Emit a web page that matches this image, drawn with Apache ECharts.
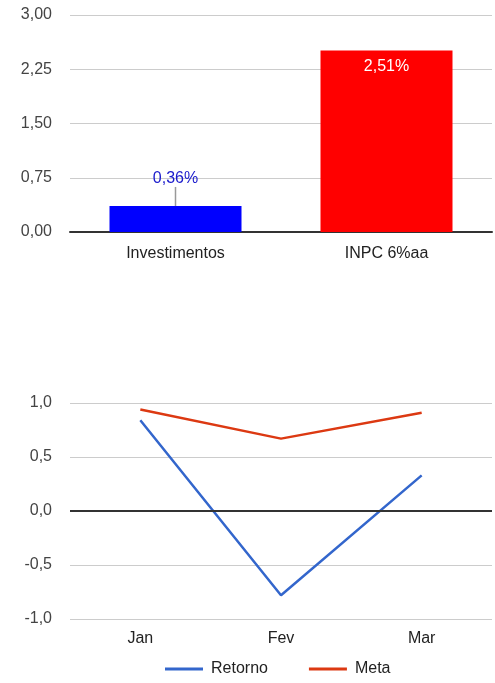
<!DOCTYPE html>
<html>
<head>
<meta charset="utf-8">
<script src="https://cdn.jsdelivr.net/npm/echarts@6/dist/echarts.min.js"></script>
<style>
html,body{margin:0;padding:0;background:#fff;}
#c{width:495px;height:683px;}
</style>
</head>
<body>
<div id="c"></div>
<script>
// Bar chart data
const barCategories = ['Investimentos', 'INPC 6%aa'];
const barValues = [0.36, 2.51];
const barTicks = [0, 0.75, 1.5, 2.25, 3];

// Line chart data
const months = ['Jan', 'Fev', 'Mar'];
const retorno = [0.84, -0.78, 0.33];
const meta = [0.94, 0.67, 0.91];

const FONT = '"Liberation Sans", Arial, sans-serif';
const fmt = (v, d) => v.toFixed(d).replace('.', ',');

const chart = echarts.init(document.getElementById('c'), null, {renderer: 'canvas'});
chart.setOption({
  animation: false,
  textStyle: {fontFamily: FONT},
  grid: [
    {left: 70, right: 3, top: 15, height: 217},
    {left: 70, right: 3, top: 403, height: 216}
  ],
  legend: {
    data: ['Retorno', 'Meta'],
    left: 165,
    top: 661,
    padding: 0,
    icon: 'rect',
    itemWidth: 38,
    itemHeight: 3,
    itemGap: 41,
    textStyle: {fontSize: 16, color: '#222', fontFamily: FONT, padding: [0, 0, 0, 3]}
  },
  xAxis: [
    {
      type: 'category', gridIndex: 0, data: barCategories,
      axisLine: {lineStyle: {color: '#333', width: 2}},
      axisTick: {show: false},
      axisLabel: {fontSize: 16, color: '#222', margin: 14, fontFamily: FONT}
    },
    {
      type: 'category', gridIndex: 1, data: months,
      axisLine: {show: false, onZero: false},
      axisTick: {show: false},
      axisLabel: {fontSize: 16, color: '#222', margin: 12, fontFamily: FONT}
    }
  ],
  yAxis: [
    {
      type: 'value', gridIndex: 0, min: 0, max: 3, interval: 0.75,
      axisLine: {show: false}, axisTick: {show: false},
      axisLabel: {fontSize: 16, color: '#444', margin: 18, fontFamily: FONT, formatter: v => fmt(v, 2)},
      splitLine: {lineStyle: {color: '#cccccc', width: 1}}
    },
    {
      type: 'value', gridIndex: 1, min: -1, max: 1, interval: 0.5,
      axisLine: {show: false}, axisTick: {show: false},
      axisLabel: {fontSize: 16, color: '#444', margin: 18, fontFamily: FONT, formatter: v => fmt(v, 1)},
      splitLine: {lineStyle: {color: '#cccccc', width: 1}}
    }
  ],
  series: [
    {
      type: 'bar', xAxisIndex: 0, yAxisIndex: 0,
      barWidth: 132,
      data: [
        {value: barValues[0], itemStyle: {color: '#0000ff'},
         label: {show: true, position: 'top', color: '#1a1acc', fontSize: 16, distance: 2}},
        {value: barValues[1], itemStyle: {color: '#ff0000'},
         label: {show: true, position: 'insideTop', color: '#ffffff', fontSize: 16, distance: 8}}
      ],
      label: {fontFamily: FONT, formatter: p => fmt(p.value, 2) + '%'},
      labelLayout: function (p) { return p.dataIndex === 0 ? {dy: -17} : {}; },
      labelLine: {show: true, lineStyle: {color: '#999999', width: 1.5}}
    },
    {
      name: 'Retorno', type: 'line', xAxisIndex: 1, yAxisIndex: 1,
      data: retorno, symbol: 'none', z: 3,
      lineStyle: {color: '#3366cc', width: 2.5}, itemStyle: {color: '#3366cc'},
      markLine: {
        silent: true, symbol: 'none', label: {show: false},
        lineStyle: {color: '#333333', width: 2, type: 'solid'},
        data: [{yAxis: 0}]
      }
    },
    {
      name: 'Meta', type: 'line', xAxisIndex: 1, yAxisIndex: 1,
      data: meta, symbol: 'none',
      lineStyle: {color: '#dc3912', width: 2.5}, itemStyle: {color: '#dc3912'}
    }
  ]
});
</script>
</body>
</html>
